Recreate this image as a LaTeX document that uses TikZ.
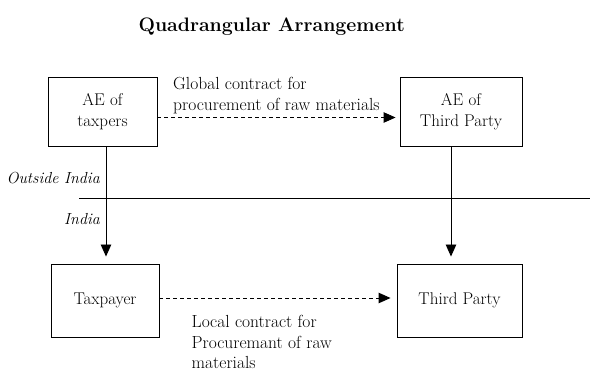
\documentclass[tikz,border=0pt]{standalone}
\usepackage{tikz}
\usetikzlibrary{arrows.meta}
\tikzstyle{party} = [rectangle, draw=black, line width=0.9pt, text centered, align=center, font=\fontsize{17}{21}\selectfont]
\tikzstyle{region} = [anchor=east, inner sep=0pt, font=\fontsize{16}{19}\selectfont\itshape]
\tikzstyle{note} = [align=left, font=\fontsize{17.5}{20.5}\selectfont]
\tikzstyle{arrow} = [line width=0.9pt, -{Triangle[length=12pt,width=10.5pt]}]
\tikzstyle{dasharrow} = [arrow, dash pattern=on 4pt off 3pt]

\begin{document}
\begin{tikzpicture}[x=1pt, y=1pt, node distance=189pt]
    \useasboundingbox (0,0) rectangle (590,378);
    \node (title) at (271.7,351) {\fontsize{19.5}{22}\selectfont\bfseries Quadrangular Arrangement};

    \node (aetax) [party, minimum width=109pt, minimum height=69pt] at (102.5,266.5) {AE of\\taxpers};
    \node (aethird) [party, minimum width=122pt, minimum height=69pt, right of=aetax, xshift=169.5pt] {AE of\\Third Party};
    \node (taxpayer) [party, minimum width=108pt, minimum height=73pt, below of=aetax, xshift=2.5pt] {Taxpayer};
    \node (third) [party, minimum width=125pt, minimum height=73pt, below of=aethird, xshift=-1.5pt] {Third Party};

    \coordinate (borderl) at (79,180);
    \coordinate (borderr) at (590,180);
    \node (outside) [region] at (100,200) {Outside India};
    \node (india) [region] at (100,159) {India};

    \draw [line width=0.9pt] (borderl) -- (borderr);
    \draw [dasharrow, shorten >=4pt] ([yshift=-6pt]aetax.east) -- node[note, above, xshift=-2pt] {Global contract for\\procurement of raw materials} ([yshift=-6pt]aethird.west);
    \draw [dasharrow, shorten >=6pt] ([yshift=2.5pt]taxpayer.east) -- node[note, pos=0.134, anchor=north west, inner sep=0pt, yshift=-17pt] {Local contract for\\Procuremant of raw\\materials} ([yshift=2.5pt]third.west);
    \draw [arrow, shorten >=7pt] ([xshift=3.5pt]aetax.south) -- ([xshift=1pt]taxpayer.north);
    \draw [arrow, shorten >=7pt] ([xshift=-10pt]aethird.south) -- ([xshift=-8.5pt]third.north);
\end{tikzpicture}
\end{document}
